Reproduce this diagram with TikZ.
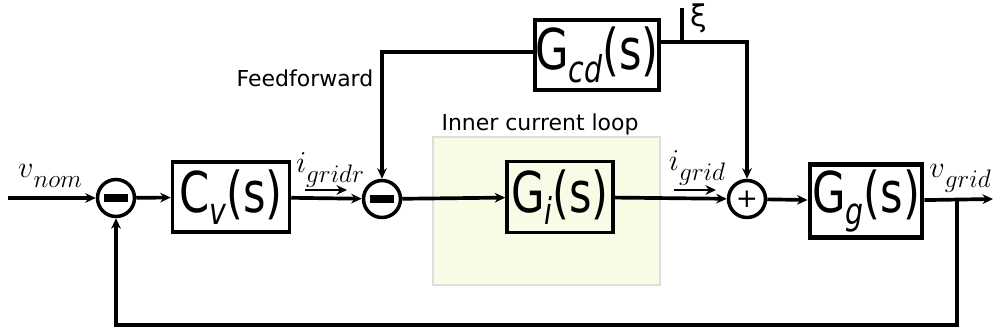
\documentclass[tikz,border=0pt]{standalone}
\usepackage{fontspec}
\setmainfont{DejaVu Sans}
\usepackage{graphicx}
\usetikzlibrary{arrows.meta}
\newcommand{\tfn}[2]{\scalebox{0.77}[1]{\fontsize{32}{35}\selectfont #1\raisebox{-0.22em}{\fontsize{21}{23}\selectfont\itshape #2}(s)}}
\newcommand{\mlab}[2]{\fontsize{19}{21}\selectfont$#1$\raisebox{-0.3em}{\fontsize{15.5}{18}\selectfont$#2$}}
\definecolor{loopfill}{HTML}{FAFBE7}
\definecolor{loopedge}{HTML}{DEDEDE}
\tikzset{
  conn/.style={line width=2.1pt},
  arr/.style={conn,-{Stealth[length=6pt,width=5.5pt]}},
  tfbox/.style={draw,line width=2pt,inner sep=0pt,anchor=center},
  sumnode/.style={draw,circle,line width=2pt,minimum size=0.74cm,inner sep=0pt},
  minusbar/.style={sumnode,path picture={\fill[black] ([xshift=-0.24cm,yshift=-0.075cm]path picture bounding box.center) rectangle ([xshift=0.24cm,yshift=0.075cm]path picture bounding box.center);}},
  sanslab/.style={font=\fontsize{12.5}{14}\selectfont}
}
\begin{document}
\begin{tikzpicture}[x=0.02cm,y=-0.02cm]
\useasboundingbox (0,0) rectangle (1000,334);
% inner current loop background
\filldraw[fill=loopfill,draw=loopedge,line width=0.8pt] (433,137) rectangle (660,285);
\node[sanslab] (innerlab) at (540,124) {Inner current loop};
% nodes
\coordinate (in) at (8,198);
\node[minusbar] (s1) at (116,198) {};
\node[tfbox,minimum width=2.34cm,minimum height=1.4cm] (cv) at (231,197) {\tfn{C}{v}};
\node[minusbar] (s2) at (382,199) {};
\node[tfbox,minimum width=2.12cm,minimum height=1.42cm,fill=loopfill] (gi) at (560,197) {\tfn{G}{i}};
\node[sumnode,font=\fontsize{15}{15}\selectfont] (s3) at (747,199) {+};
\node[tfbox,line width=2.8pt,minimum width=2.24cm,minimum height=1.46cm] (gg) at (866,201) {\tfn{G}{g}};
\node[tfbox,minimum width=2.46cm,minimum height=1.4cm] (gcd) at (597,55) {\tfn{G}{cd}};
\coordinate (out) at (993,199);
\coordinate (tap) at (957,199);
\coordinate (fb) at (500,325);
\coordinate (xt) at (682,8);
\coordinate (xb) at (682,42);
\coordinate (ia1) at (305,190);
\coordinate (ia2) at (347,190);
\coordinate (ib1) at (674,190);
\coordinate (ib2) at (716,190);
% labels
\node (vnom) at (50,176) {\mlab{v}{nom}};
\node (igr) at (330,170) {\mlab{i}{gridr}};
\node (ig) at (697,168) {\mlab{i}{grid}};
\node (vg) at (960,178) {\mlab{v}{grid}};
\node[sanslab] (ffl) at (305,78) {Feedforward};
\node[font=\fontsize{17}{18}\selectfont] (xi) at (699,18) {ξ};
% connectors
\draw[arr] (in) -- (s1);
\draw[arr] (s1) -- (cv);
\draw[arr] (cv) -- (s2);
\draw[arr] (s2) -- (gi);
\draw[arr] (gi) -- (s3);
\draw[arr] (s3) -- (gg);
\draw[arr] (gg) -- (out);
\draw[arr] (tap) |- (fb) -| (s1.south);
\draw[arr] ([yshift=0.06cm]gcd.west) -| (s2.north);
\draw[arr] ([yshift=0.26cm]gcd.east) -| (s3.north);
\draw[conn] (xt) -- (xb);
\draw[arr,line width=1.6pt] (ia1) -- (ia2);
\draw[arr,line width=1.6pt] (ib1) -- (ib2);
\end{tikzpicture}
\end{document}
